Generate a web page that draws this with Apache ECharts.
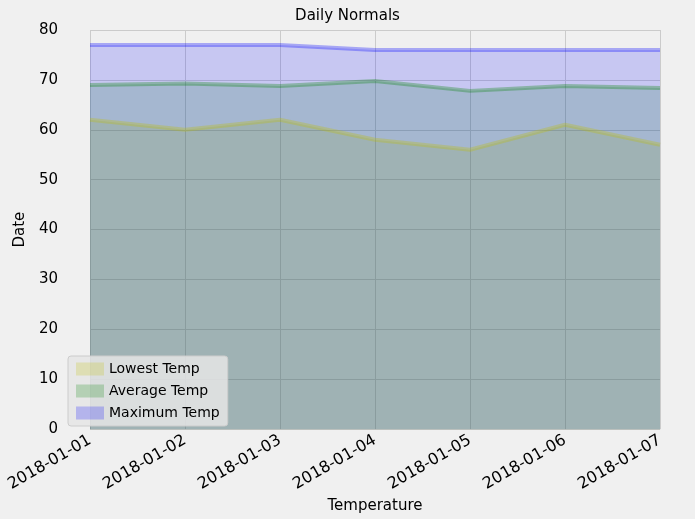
<!DOCTYPE html>
<html><head><meta charset="utf-8">
<script src="https://cdn.jsdelivr.net/npm/echarts@6/dist/echarts.min.js"></script>
<style>body{margin:0;background:#f0f0f0}</style>
</head><body>
<div id="chart" style="width:695px;height:519px;"></div>
<script>
var dates = ['2018-01-01','2018-01-02','2018-01-03','2018-01-04','2018-01-05','2018-01-06','2018-01-07'];
var lowest = [62, 60, 62, 58, 56, 61, 57];
var average = [69, 69.3, 68.8, 69.8, 67.8, 68.8, 68.4];
var maximum = [77, 77, 77, 76, 76, 76, 76];

function area(name, data, rgb) {
	return {
		name: name, type: 'line', data: data, symbol: 'none',
		itemStyle: {color: 'rgba(' + rgb + ',0.22)'},
		lineStyle: {color: 'rgba(' + rgb + ',0.3)', width: 4},
		areaStyle: {color: 'rgba(' + rgb + ',0.24)', origin: 'start'}
	};
}

var option = {
	backgroundColor: '#f0f0f0',
	textStyle: {fontFamily: 'DejaVu Sans'},
	title: {text: 'Daily Normals', left: 'center', top: 4,
		textStyle: {fontSize: 15, fontWeight: 'normal', color: '#000'}},
	grid: {left: 90, right: 35, top: 30, bottom: 87},
	legend: {
		orient: 'vertical', left: 68, bottom: 93, itemWidth: 28, itemHeight: 13,
		icon: 'rect', backgroundColor: 'rgba(229,229,229,0.85)', borderColor: '#ccc',
		borderWidth: 1, borderRadius: 3, padding: [6, 8], itemGap: 8,
		textStyle: {fontSize: 14, color: '#000'},
		data: ['Lowest Temp', 'Average Temp', 'Maximum Temp']
	},
	xAxis: {
		type: 'category', data: dates, boundaryGap: false,
		name: 'Temperature', nameLocation: 'middle', nameGap: 62,
		nameTextStyle: {fontSize: 15, color: '#000'},
		axisLine: {show: false}, axisTick: {show: false},
		axisLabel: {rotate: 30, fontSize: 16, color: '#000', margin: 10},
		splitLine: {show: true, lineStyle: {color: '#cbcbcb', width: 1}}
	},
	yAxis: {
		type: 'value', min: 0, max: 80, interval: 10,
		name: 'Date', nameLocation: 'middle', nameGap: 60,
		nameTextStyle: {fontSize: 15, color: '#000'},
		axisLabel: {fontSize: 15, color: '#000', margin: 32},
		splitLine: {lineStyle: {color: '#cbcbcb', width: 1}}
	},
	series: [
		area('Lowest Temp', lowest, '191,191,0'),
		area('Average Temp', average, '0,128,0'),
		area('Maximum Temp', maximum, '0,0,255')
	]
};
echarts.init(document.getElementById('chart')).setOption(option);
</script>
</body></html>
